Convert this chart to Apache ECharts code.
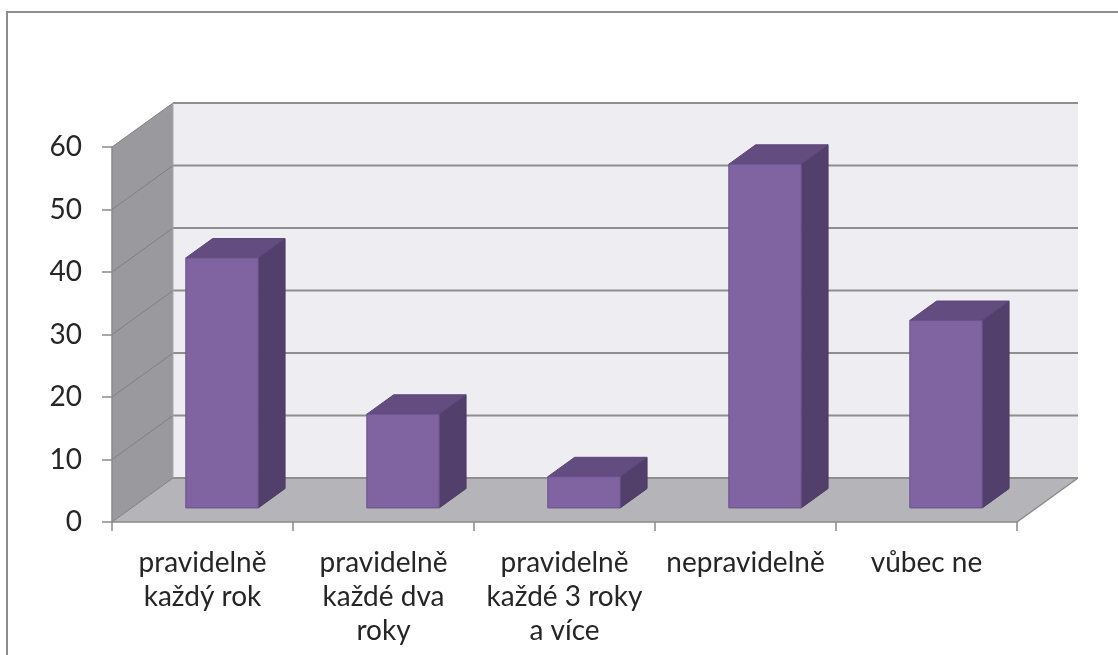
<!DOCTYPE html>
<html>
<head>
<meta charset="utf-8">
<script src="https://cdn.jsdelivr.net/npm/echarts@6/dist/echarts.min.js"></script>
<style>
html,body{margin:0;padding:0;background:#fff;}
#chart{width:1118px;height:655px;}
</style>
</head>
<body>
<div id="chart"></div>
<script>
// ---- data ----
const categories = [
  'pravidelně\nkaždý rok',
  'pravidelně\nkaždé dva\nroky',
  'pravidelně\nkaždé 3 roky\na více',
  'nepravidelně',
  'vůbec ne'
];
const values = [40, 15, 5, 55, 30];
const yTicks = [0, 10, 20, 30, 40, 50, 60];

// ---- 3D look (style) ----
const DX = 61, DY = -44;      // depth offset of back wall
const D1 = 0.32, D2 = 0.76;   // bar depth span (fraction)
const BAR_W = 0.4;            // bar width as fraction of band

const chart = echarts.init(document.getElementById('chart'), null, {renderer: 'canvas'});

function renderWalls(params, api) {
  const cs = params.coordSys;
  const x0 = cs.x, x1 = cs.x + cs.width, yT = cs.y, yB = cs.y + cs.height;
  const ch = [];
  ch.push({type: 'polygon', shape: {points: [[x0, yB], [x0, yT], [x0 + DX, yT + DY], [x0 + DX, yB + DY]]},
    style: {fill: '#9a999e'}});
  ch.push({type: 'rect', shape: {x: x0 + DX, y: yT + DY, width: x1 - x0, height: yB - yT},
    style: {fill: '#eeedf2'}});
  ch.push({type: 'polygon', shape: {points: [[x0, yB], [x1, yB], [x1 + DX, yB + DY], [x0 + DX, yB + DY]]},
    style: {fill: '#b5b4b9'}});
  yTicks.forEach(function (v) {
    const y = api.coord([0, v])[1];
    ch.push({type: 'line', shape: {x1: x0 + DX, y1: y + DY, x2: x1 + DX, y2: y + DY},
      style: {stroke: '#8e8e8e', lineWidth: 2}});
    ch.push({type: 'line', shape: {x1: x0, y1: y, x2: x0 + DX, y2: y + DY},
      style: {stroke: '#7f7f82', lineWidth: 1}});
  });
  ch.push({type: 'line', shape: {x1: x0 + DX, y1: yT + DY, x2: x0 + DX, y2: yB + DY},
    style: {stroke: '#a8a8ab', lineWidth: 1}});
  ch.push({type: 'line', shape: {x1: x1, y1: yB, x2: x1 + DX, y2: yB + DY},
    style: {stroke: '#8a8a8a', lineWidth: 1.5}});
  return {type: 'group', children: ch};
}

function renderBar(params, api) {
  const i = api.value(0), v = api.value(1);
  const base = api.coord([i, 0]);
  const top = api.coord([i, v]);
  const band = api.size([1, 0])[0];
  const w = band * BAR_W;
  const xL = base[0] + D1 * DX - w / 2, xR = xL + w;
  const yB = base[1] + D1 * DY, yT = top[1] + D1 * DY;
  const ddx = (D2 - D1) * DX, ddy = (D2 - D1) * DY;
  return {type: 'group', children: [
    {type: 'polygon', shape: {points: [[xR, yB], [xR, yT], [xR + ddx, yT + ddy], [xR + ddx, yB + ddy]]},
      style: {fill: '#533f6c', stroke: '#4c3a63', lineWidth: 1}},
    {type: 'polygon', shape: {points: [[xL, yT], [xR, yT], [xR + ddx, yT + ddy], [xL + ddx, yT + ddy]]},
      style: {fill: '#634c7f', stroke: '#5a4675', lineWidth: 1}},
    {type: 'rect', shape: {x: xL, y: yT, width: w, height: yB - yT},
      style: {fill: '#8064a2', stroke: '#6a5189', lineWidth: 1}}
  ]};
}

const option = {
  animation: false,
  backgroundColor: '#ffffff',
  textStyle: {fontFamily: 'Lato, "Open Sans", sans-serif'},
  graphic: [{
    type: 'rect', silent: true, z: 100,
    shape: {x: 7, y: 12, width: 1140, height: 680},
    style: {fill: 'none', stroke: '#8c8c8c', lineWidth: 2}
  }],
  grid: {left: 112, right: 101, top: 147, bottom: 133},
  xAxis: {
    type: 'category',
    data: categories,
    z: 10,
    axisLine: {lineStyle: {color: '#8a8a8a', width: 1.5}},
    axisTick: {show: true, length: 9, lineStyle: {color: '#8a8a8a', width: 1.5}},
    axisLabel: {interval: 0, margin: 24, fontSize: 28, lineHeight: 34, color: '#262626',
      fontFamily: 'Lato, sans-serif'},
    splitLine: {show: false}
  },
  yAxis: {
    type: 'value',
    min: 0, max: 60, interval: 10,
    z: 10,
    axisLine: {show: true, lineStyle: {color: '#8a8a8a', width: 1.5}},
    axisTick: {show: true, length: 10, lineStyle: {color: '#8a8a8a', width: 1.5}},
    axisLabel: {margin: 30, fontSize: 28, color: '#262626', fontFamily: 'Lato, sans-serif'},
    splitLine: {show: false}
  },
  series: [
    {type: 'custom', name: 'walls', z: 0, silent: true, renderItem: renderWalls, data: [[0, 0]]},
    {type: 'custom', name: 'values', z: 2, renderItem: renderBar,
      data: values.map(function (v, i) { return [i, v]; })}
  ]
};
chart.setOption(option);
</script>
</body>
</html>
